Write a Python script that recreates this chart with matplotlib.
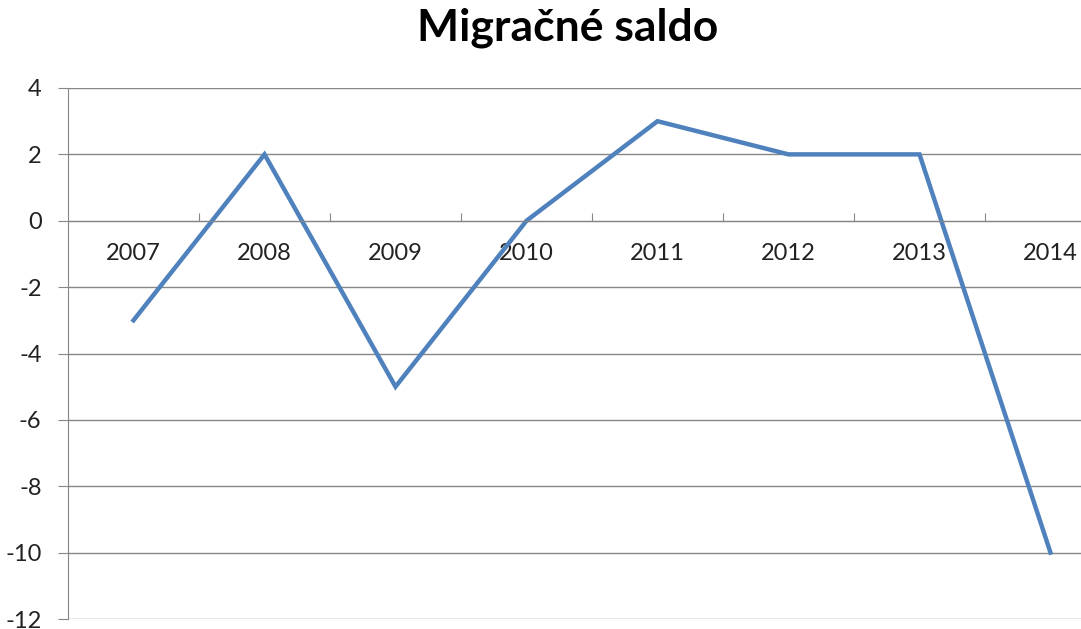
import matplotlib
matplotlib.use("Agg")
import matplotlib.pyplot as plt
import numpy as np

years = ["2007", "2008", "2009", "2010", "2011", "2012", "2013", "2014"]
saldo = [-3, 2, -5, 0, 3, 2, 2, -10]

plt.rcParams["font.family"] = ["Lato", "DejaVu Sans"]
plt.rcParams["axes.unicode_minus"] = False
grey = "#868686"

fig = plt.figure(figsize=(10.81, 6.29), dpi=100)
# the reference is cropped on the right, so the axes run past the figure edge
ax = fig.add_axes([68 / 1081, 10 / 629, 8 * 131 / 1081, 531 / 629])

x = np.arange(len(years))
ax.plot(x, saldo, color="#4F81BD", lw=3.2, solid_joinstyle="miter", clip_on=False)

ax.set_xlim(-0.5, len(years) - 0.5)
ax.set_ylim(-12, 4)
ax.set_yticks(np.arange(-12, 5, 2))
ax.yaxis.grid(True, color=grey, lw=1)
ax.set_axisbelow(True)

# category axis sits at zero, labels centred, tick marks between categories
ax.spines["bottom"].set_position(("data", 0))
ax.spines["bottom"].set_color(grey)
ax.spines["left"].set_color(grey)
ax.spines["top"].set_visible(False)
ax.spines["right"].set_visible(False)
ax.set_xticks(x[:-1] + 0.5)
ax.set_xticklabels([])
ax.set_xticks(x, minor=True)
ax.set_xticklabels(years, minor=True)
ax.tick_params(axis="x", which="major", direction="in", length=6, color=grey)
ax.tick_params(axis="x", which="minor", length=0, pad=16, labelsize=17, labelcolor="#222222")
ax.tick_params(axis="y", direction="out", length=7, color=grey, pad=12,
               labelsize=17, labelcolor="#222222")

fig.text(568 / 1081, 1 - 28 / 629, "Migračné saldo", ha="center", va="center",
         fontsize=32, fontweight="bold")

fig.savefig("out.png", dpi=100)
